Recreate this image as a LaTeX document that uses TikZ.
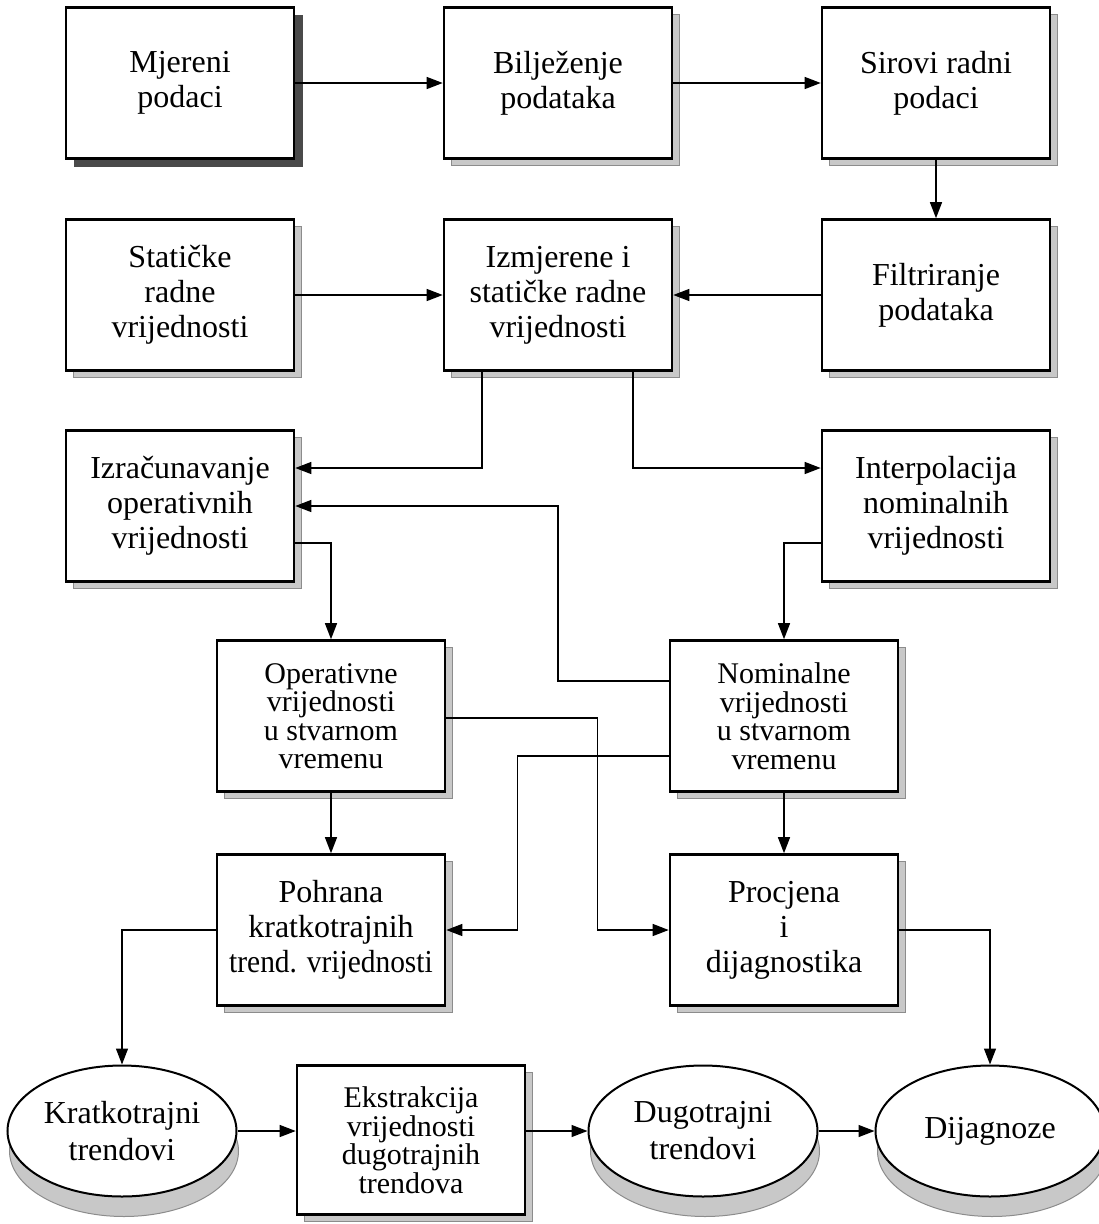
\documentclass[tikz,border=0pt]{standalone}
\usepackage{fontspec}
\setmainfont{Liberation Serif}
\usetikzlibrary{arrows.meta,shapes.geometric,shadows,calc}
\definecolor{shlight}{HTML}{C8C8C8}
\definecolor{shedge}{HTML}{8C8C8C}
\definecolor{shdark}{HTML}{4A4A4A}
\begin{document}
\begin{tikzpicture}[x=1pt,y=-1pt,
  boxbase/.style={draw, line width=2.6pt, fill=white, minimum width=228pt,
    minimum height=151pt, inner sep=0pt, align=center,
    font=\fontsize{32}{35}\selectfont},
  box/.style={boxbase, general shadow={fill=shlight, draw=shedge, line width=0.8pt,
    shadow xshift=7pt, shadow yshift=-7pt}},
  darkbox/.style={boxbase, general shadow={fill=shdark, draw=shdark, line width=0.8pt,
    shadow xshift=8pt, shadow yshift=-8pt}},
  tight/.style={font=\fontsize{30}{28.5}\selectfont},
  disc/.style={ellipse, draw, line width=2pt, fill=white, minimum width=229pt,
    minimum height=131pt, inner sep=0pt, align=center,
    font=\fontsize{32}{37}\selectfont,
    general shadow={fill=shlight, draw=shedge, line width=1pt,
    shadow xshift=2pt, shadow yshift=-20pt}},
  arr/.style={line width=1.3pt, -{Triangle[length=16pt,width=12pt]}}
]
\useasboundingbox (0,0) rectangle (1099,1224);
% row 1
\node[darkbox] (m1) at (180,83) {Mjereni\\podaci};
\node[box] (m2) at (558,83) {Bilježenje\\podataka};
\node[box] (m3) at (936,83) {Sirovi radni\\podaci};
% row 2
\node[box] (st) at (180,295) {Statičke\\radne\\vrijednosti};
\node[box] (iz) at (558,295) {Izmjerene i\\statičke radne\\vrijednosti};
\node[box] (fi) at (936,295) {Filtriranje\\podataka};
% row 3
\node[box] (izr) at (180,506) {Izračunavanje\\operativnih\\vrijednosti};
\node[box] (ip) at (936,506) {Interpolacija\\nominalnih\\vrijednosti};
% row 4
\node[box,tight] (op) at (331,716) {Operativne\\vrijednosti\\u stvarnom\\vremenu};
\node[box,tight] (nom) at (784,716) {Nominalne\\vrijednosti\\u stvarnom\\vremenu};
% row 5
\node[box] (po) at (331,930) {Pohrana\\kratkotrajnih\\\scalebox{0.92}[1]{trend. vrijednosti}};
\node[box] (pr) at (784,930) {Procjena\\i\\dijagnostika};
% row 6
\node[disc] (kr) at (122,1131) {Kratkotrajni\\trendovi};
\node[box,tight,minimum height=149pt] (ek) at (411,1140) {Ekstrakcija\\vrijednosti\\dugotrajnih\\trendova};
\node[disc] (du) at (703,1131) {Dugotrajni\\trendovi};
\node[disc] (di) at (990,1131) {Dijagnoze};
% connectors
\draw[arr] (m1.east) -- (m2.west);
\draw[arr] (m2.east) -- (m3.west);
\draw[arr] (m3.south) -- (fi.north);
\draw[arr] (st.east) -- (iz.west);
\draw[arr] (fi.west) -- (iz.east);
\draw[arr] ($(iz.south)+(-76,0)$) |- ($(izr.east)+(0,-38)$);
\draw[arr] ($(iz.south)+(75,0)$) |- ($(ip.west)+(0,-38)$);
\draw[arr] ($(nom.west)+(0,-35)$) -| (iz.south |- izr.east) -- (izr.east);
\draw[arr] ($(izr.east)+(0,37)$) -| (op.north);
\draw[arr] ($(ip.west)+(0,37)$) -| (nom.north);
\draw[arr] (op.south) -- (po.north);
\draw[arr] (nom.south) -- (pr.north);
\draw[arr] ($(op.east)+(0,2)$) -- ++(151,0) |- (pr.west);
\draw[arr] ($(nom.west)+(0,40)$) -- ++(-151,0) |- (po.east);
\draw[arr] (po.west) -| (kr.north);
\draw[arr] (pr.east) -| (di.north);
\draw[arr] (kr.east) -- (kr.east -| ek.west);
\draw[arr] (ek.east |- du.west) -- (du.west);
\draw[arr] (du.east) -- (di.west);
\end{tikzpicture}
\end{document}
